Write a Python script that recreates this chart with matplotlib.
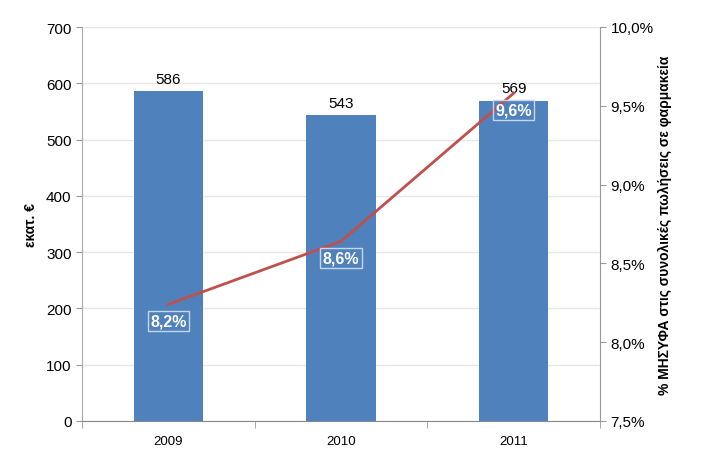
import matplotlib
matplotlib.use("Agg")
import matplotlib.pyplot as plt
from matplotlib import font_manager
import numpy as np

years = ["2009", "2010", "2011"]
sales = [586, 543, 569]
share = [8.24, 8.64, 9.58]
share_labels = ["8,2%", "8,6%", "9,6%"]
left_ticks = [0, 100, 200, 300, 400, 500, 600, 700]
right_ticks = [7.5, 8.0, 8.5, 9.0, 9.5, 10.0]

names = {f.name for f in font_manager.fontManager.ttflist}
fam = "Liberation Sans Narrow" if "Liberation Sans Narrow" in names else "Liberation Sans"
plt.rcParams["font.family"] = [fam, "DejaVu Sans"]

fig = plt.figure(figsize=(7.06, 4.52), dpi=100)
ax = fig.add_axes([82/706, 1-422/452, (600-82)/706, (422-28)/452])
x = np.arange(len(years))
ax.bar(x, sales, width=0.40, color="#4F81BD", zorder=2)
ax.set_xlim(-0.5, 2.5)
ax.set_ylim(0, 700)
ax.set_yticks(left_ticks)
ax.set_yticklabels([str(t) for t in left_ticks], fontsize=11)
ax.grid(axis="y", color="#E6E6E6", lw=1, zorder=0)
ax.set_axisbelow(True)
ax.set_xticks(x)
ax.set_xticklabels(years, fontsize=9.5)
ax.tick_params(axis="x", length=0, pad=10)
ax.set_xticks([-0.5, 0.5, 1.5, 2.5], minor=True)
ax.tick_params(axis="x", which="minor", length=5, color="#999999")
ax.tick_params(axis="y", length=4, color="#999999")
for s in ["top", "right"]:
    ax.spines[s].set_visible(False)
ax.spines["left"].set_color("#AAAAAA")
ax.spines["bottom"].set_color("#888888")
ax.set_ylabel("εκατ. €", fontsize=10, fontweight="bold", labelpad=6)
for xi, v in zip(x, sales):
    ax.annotate(str(v), (xi, v), xytext=(0, 4), textcoords="offset points",
                ha="center", va="bottom", fontsize=11, zorder=5)

ax2 = ax.twinx()
ax2.set_ylim(7.5, 10.0)
ax2.set_yticks(right_ticks)
ax2.set_yticklabels([f"{t:.1f}%".replace(".", ",") for t in right_ticks], fontsize=11)
ax2.tick_params(axis="y", length=4, color="#999999")
for s in ["top", "left", "bottom"]:
    ax2.spines[s].set_visible(False)
ax2.spines["right"].set_color("#999999")
ax2.plot(x, share, color="#C0504D", lw=2, zorder=3)
for xi, v, lab in zip(x, share, share_labels):
    ax2.annotate(lab, (xi, v), xytext=(0, -12), textcoords="offset points",
                 ha="center", va="center", fontsize=11.5, fontweight="bold", color="white",
                 bbox=dict(boxstyle="square,pad=0.15", fc="none", ec="#C8D6EA", lw=1))
ax2.set_ylabel("% ΜΗΣΥΦΑ στις συνολικές πωλήσεις σε φαρμακεία", fontsize=10,
               fontweight="bold", rotation=90, labelpad=3)

fig.savefig("out.png", dpi=100)
